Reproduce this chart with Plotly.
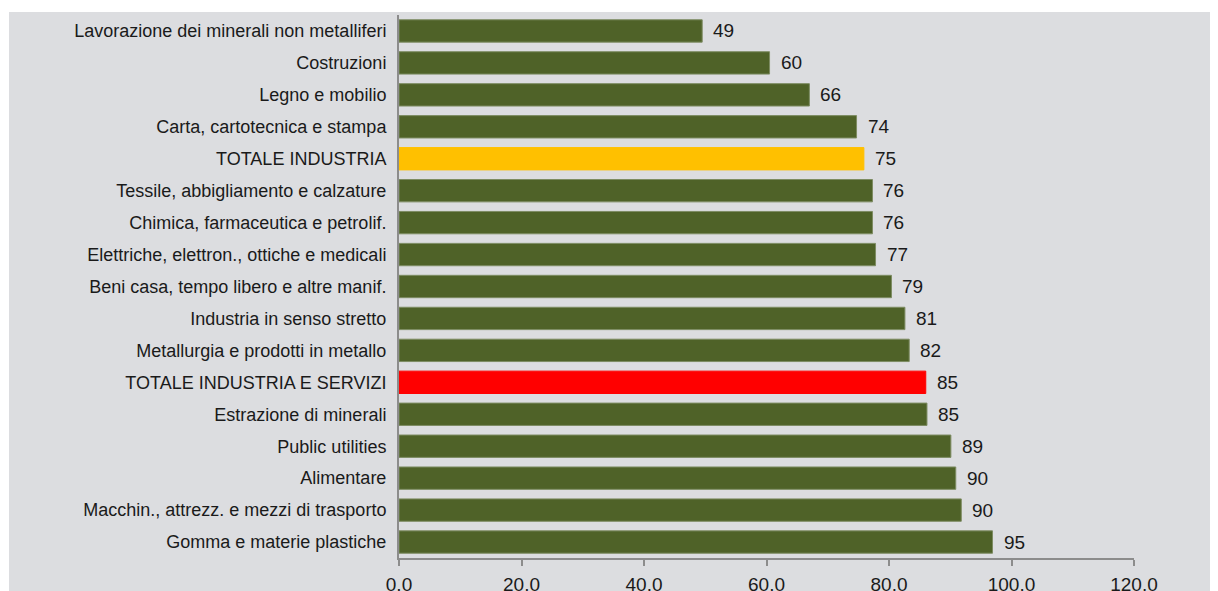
import plotly.graph_objects as go

categories = [
    "Lavorazione dei minerali non metalliferi",
    "Costruzioni",
    "Legno e mobilio",
    "Carta, cartotecnica e stampa",
    "TOTALE INDUSTRIA",
    "Tessile, abbigliamento e calzature",
    "Chimica, farmaceutica e petrolif.",
    "Elettriche, elettron., ottiche e medicali",
    "Beni casa, tempo libero e altre manif.",
    "Industria in senso stretto",
    "Metallurgia e prodotti in metallo",
    "TOTALE INDUSTRIA E SERVIZI",
    "Estrazione di minerali",
    "Public utilities",
    "Alimentare",
    "Macchin., attrezz. e mezzi di trasporto",
    "Gomma e materie plastiche",
]
values = [49.5, 60.5, 67.0, 74.7, 75.9, 77.3, 77.3, 77.8, 80.4, 82.6, 83.3,
          86.0, 86.2, 90.1, 90.9, 91.8, 96.9]
labels = ["49", "60", "66", "74", "75", "76", "76", "77", "79", "81", "82",
          "85", "85", "89", "90", "90", "95"]
x_ticks = [0, 20, 40, 60, 80, 100, 120]
x_tick_labels = ["0.0", "20.0", "40.0", "60.0", "80.0", "100.0", "120.0"]

GREEN = "#4f6228"
colors = []
edges = []
for c in categories:
    if c == "TOTALE INDUSTRIA":
        colors.append("#ffc000"); edges.append("#ffc000")
    elif c == "TOTALE INDUSTRIA E SERVIZI":
        colors.append("#ff0000"); edges.append("#ff0000")
    else:
        colors.append(GREEN); edges.append("#7d8c62")

BG = "#dcdde0"
FONT = "Liberation Sans, Arial, sans-serif"
TXT = "#1a1a1a"

fig = go.Figure()
fig.add_trace(go.Bar(
    x=values, y=categories, orientation="h",
    marker=dict(color=colors, line=dict(color=edges, width=1)),
    hoverinfo="x+y", width=0.7,
))

annotations = []
for c, v, t in zip(categories, values, labels):
    annotations.append(dict(x=v, y=c, xref="x", yref="y", text=t, showarrow=False,
                            xanchor="left", yanchor="middle", xshift=9,
                            font=dict(family=FONT, size=19, color=TXT)))

# page has an 8px body margin; figure sized to fit the window exactly
W, H = 1210, 583
L, R, T, B = 391, 84, 7, 33
pw, ph = W - L - R, H - T - B
x0 = (1 - L) / pw
x1 = (W - L) / pw + 0.01
y1 = (H - B - 4) / ph
y0 = -(B + 2) / ph

fig.update_layout(
    width=W, height=H,
    margin=dict(l=L, r=R, t=T, b=B, pad=0, autoexpand=False),
    paper_bgcolor="white",
    plot_bgcolor="rgba(0,0,0,0)",
    showlegend=False,
    bargap=0.3,
    font=dict(family=FONT, size=18, color=TXT),
    annotations=annotations,
    shapes=[dict(type="rect", xref="paper", yref="paper", x0=x0, x1=x1, y0=y0, y1=y1,
                 fillcolor=BG, line=dict(width=0), layer="below")],
    xaxis=dict(
        range=[0, 120], tickvals=x_ticks, ticktext=x_tick_labels,
        showgrid=False, zeroline=False, showline=True, linecolor="#8c8c8c", linewidth=2,
        ticks="outside", ticklen=6, tickcolor="#8c8c8c", tickwidth=2,
        ticklabelstandoff=2, automargin=False,
        tickfont=dict(family=FONT, size=19, color=TXT),
        fixedrange=True,
    ),
    yaxis=dict(
        autorange="reversed", showgrid=False, zeroline=False,
        showline=True, linecolor="#8c8c8c", linewidth=2, ticks="",
        ticklabelstandoff=7, automargin=False,
        tickfont=dict(family=FONT, size=18, color=TXT),
        fixedrange=True,
    ),
)

fig.write_html("out.html")
